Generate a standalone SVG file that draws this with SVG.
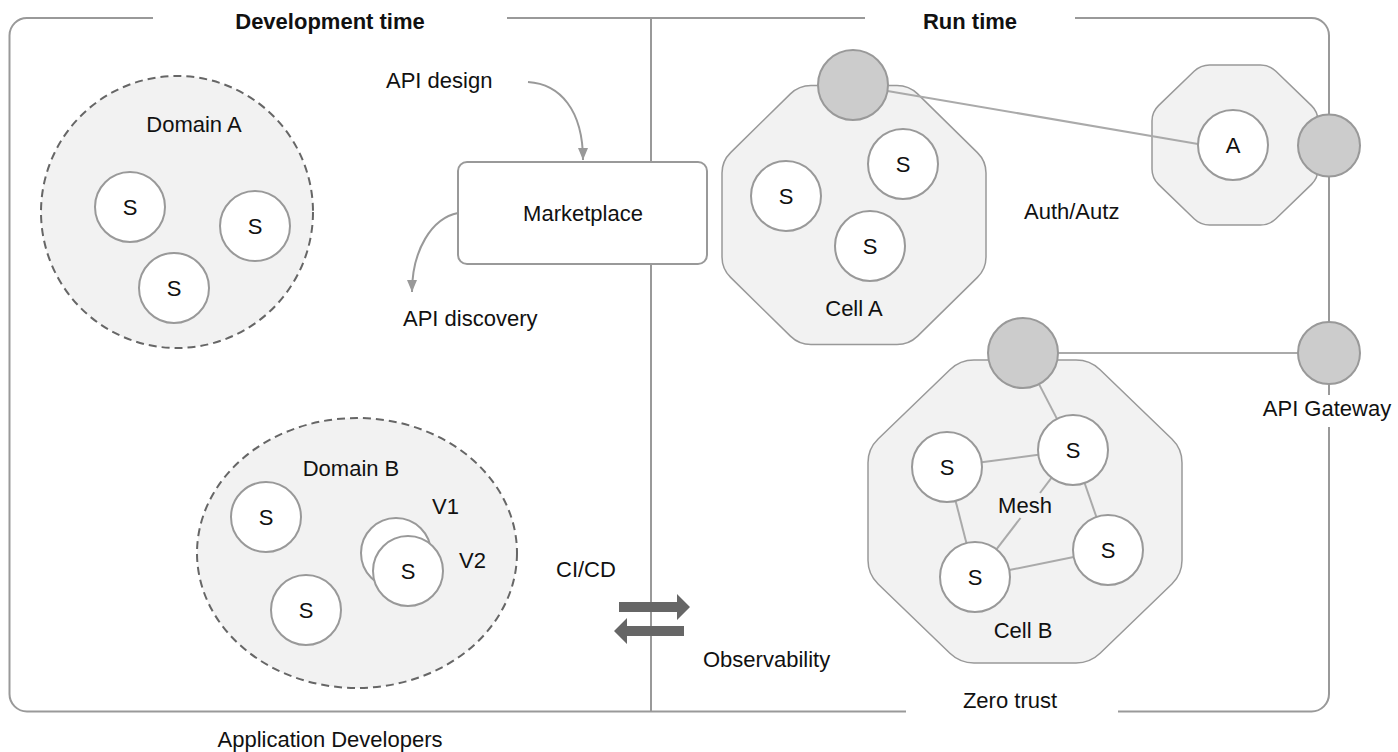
<svg xmlns="http://www.w3.org/2000/svg" width="1398" height="752" viewBox="0 0 1398 752">
  <style>
    .frame { fill: none; stroke: #999; stroke-width: 2; }
    .dom { fill: #f2f2f2; stroke: #666; stroke-width: 2; stroke-dasharray: 8 5; }
    .cell { fill: #f2f2f2; stroke: #999; stroke-width: 1.5; }
    .svc { fill: #fff; stroke: #999; stroke-width: 2; }
    .gw { fill: #ccc; stroke: #999; stroke-width: 2; }
    .box { fill: #fff; stroke: #999; stroke-width: 2; }
    .link { fill: none; stroke: #aaa; stroke-width: 2; }
    .flow { fill: none; stroke: #999; stroke-width: 2; }
    .pipe { fill: #666; }
    text { font-family: "Liberation Sans", Arial, sans-serif; font-size: 22px; fill: #111; }
    .title { font-weight: bold; }
    .mid { text-anchor: middle; }
  </style>
  <defs>
    <marker id="ah" viewBox="0 0 12 10" refX="12" refY="5" markerWidth="12" markerHeight="10" markerUnits="userSpaceOnUse" orient="auto">
      <path d="M0,0 L12,5 L0,10 Z" fill="#999"/>
    </marker>
  </defs>

  <!-- outer frame with gaps for headings and labels -->
  <g id="frame">
    <path class="frame" d="M153,18 L27,18 A17.5,17.5 0 0 0 9.5,35.5 L9.5,694 A17.5,17.5 0 0 0 27,711.5 L906,711.5"/>
    <path class="frame" d="M1118,711.5 L1311.5,711.5 A17.5,17.5 0 0 0 1329,694 L1329,427"/>
    <path class="frame" d="M1329,395 L1329,35.5 A17.5,17.5 0 0 0 1311.5,18 L1075,18"/>
    <path class="frame" d="M507,18 L865,18"/>
    <path class="frame" d="M651,18 L651,711.5"/>
    <text class="title mid" x="330" y="29">Development time</text>
    <text class="title mid" x="970" y="29">Run time</text>
    <text class="mid" x="1010" y="708">Zero trust</text>
    <text class="mid" x="330" y="747">Application Developers</text>
  </g>

  <!-- Domain A -->
  <g id="domain-a">
    <circle class="dom" cx="177" cy="212" r="136"/>
    <text class="mid" x="194" y="132">Domain A</text>
    <circle class="svc" cx="130" cy="207" r="35"/>
    <text class="mid" x="130" y="215">S</text>
    <circle class="svc" cx="255" cy="226" r="35"/>
    <text class="mid" x="255" y="234">S</text>
    <circle class="svc" cx="174" cy="288" r="35"/>
    <text class="mid" x="174" y="296">S</text>
  </g>

  <!-- Domain B -->
  <g id="domain-b">
    <ellipse class="dom" cx="357" cy="553" rx="160" ry="135"/>
    <text class="mid" x="351" y="476">Domain B</text>
    <circle class="svc" cx="266" cy="517" r="35"/>
    <text class="mid" x="266" y="525">S</text>
    <circle class="svc" cx="306" cy="610" r="35"/>
    <text class="mid" x="306" y="618">S</text>
    <circle class="svc" cx="396" cy="553" r="35"/>
    <circle class="svc" cx="408" cy="571" r="35"/>
    <text class="mid" x="408" y="579">S</text>
    <text x="432" y="514">V1</text>
    <text x="459" y="568">V2</text>
  </g>

  <!-- Marketplace -->
  <g id="marketplace">
    <rect class="box" x="458" y="162" width="249" height="102" rx="9"/>
    <text class="mid" x="583" y="221">Marketplace</text>
  </g>

  <g id="api-labels">
    <text x="386" y="88">API design</text>
    <text x="403" y="326">API discovery</text>
  </g>

  <!-- CI/CD and observability exchange -->
  <g id="pipeline">
    <text x="556" y="577">CI/CD</text>
    <path class="pipe" d="M619,602 L677,602 L677,594 L690,607 L677,620 L677,612 L619,612 Z"/>
    <path class="pipe" d="M684,626 L627,626 L627,618 L614,631 L627,644 L627,636 L684,636 Z"/>
    <text x="703" y="667">Observability</text>
  </g>

  <!-- Cell A -->
  <g id="cell-a">
    <path class="cell" d="M811,85.5 L897,85.5 Q909,85.5 917.6,93.9 L977.4,152.6 Q986,161 986,173 L986,257 Q986,269 977.4,277.4 L917.6,336.1 Q909,344.5 897,344.5 L811,344.5 Q799,344.5 790.4,336.1 L730.6,277.4 Q722,269 722,257 L722,173 Q722,161 730.6,152.6 L790.4,93.9 Q799,85.5 811,85.5 Z"/>
    <circle class="svc" cx="786" cy="196" r="35"/>
    <text class="mid" x="786" y="204">S</text>
    <circle class="svc" cx="903" cy="164" r="35"/>
    <text class="mid" x="903" y="172">S</text>
    <circle class="svc" cx="870" cy="246" r="35"/>
    <text class="mid" x="870" y="254">S</text>
    <text class="mid" x="854" y="316">Cell A</text>
  </g>

  <!-- Auth service -->
  <g id="auth">
    <path class="cell" d="M1209.6,65 L1260.4,65 Q1269.4,65 1275.9,71.3 L1311.5,105.6 Q1318,111.9 1318,120.9 L1318,169.1 Q1318,178.1 1311.5,184.4 L1275.9,218.7 Q1269.4,225 1260.4,225 L1209.6,225 Q1200.6,225 1194.1,218.7 L1158.5,184.4 Q1152,178.1 1152,169.1 L1152,120.9 Q1152,111.9 1158.5,105.6 L1194.1,71.3 Q1200.6,65 1209.6,65 Z"/>
    <text x="1024" y="219">Auth/Autz</text>
  </g>

  <!-- Cell B -->
  <g id="cell-b">
    <path class="cell" d="M974,360 L1076,360 Q1090,360 1100.1,369.7 L1171.9,439 Q1182,448.7 1182,462.7 L1182,560.3 Q1182,574.3 1171.9,584 L1100.1,653.3 Q1090,663 1076,663 L974,663 Q960,663 949.9,653.3 L878.1,584 Q868,574.3 868,560.3 L868,462.7 Q868,448.7 878.1,439 L949.9,369.7 Q960,360 974,360 Z"/>
    <text class="mid" x="1025" y="513">Mesh</text>
    <text class="mid" x="1023" y="638">Cell B</text>
  </g>

  <!-- connectors -->
  <g id="connectors">
    <path class="flow" d="M528,82 C560,84 583,110 583,160" marker-end="url(#ah)"/>
    <path class="flow" d="M458,213 C432,218 412,250 412,292" marker-end="url(#ah)"/>
    <line class="link" x1="887.5" y1="90.9" x2="1198" y2="144"/>
    <line class="link" x1="1058" y1="353" x2="1298" y2="353"/>
    <line class="link" x1="1039" y1="384.1" x2="1057" y2="418.9"/>
    <line class="link" x1="981.7" y1="462.3" x2="1038.3" y2="454.7"/>
    <line class="link" x1="955.6" y1="500.9" x2="966.4" y2="543.1"/>
    <line class="link" x1="1084.6" y1="483" x2="1096.4" y2="517"/>
    <line class="link" x1="1009.3" y1="570" x2="1073.7" y2="557"/>
    <line class="link" x1="1051.6" y1="477.7" x2="1040" y2="493"/>
    <line class="link" x1="1020.5" y1="518" x2="996.4" y2="549.3"/>
  </g>

  <!-- gateways and services drawn over connectors -->
  <g id="cell-a-gateway">
    <circle class="gw" cx="853" cy="85" r="35"/>
  </g>
  <g id="auth-service">
    <circle class="svc" cx="1233" cy="145" r="35"/>
    <text class="mid" x="1233" y="153">A</text>
  </g>
  <g id="edge-gateway-top">
    <circle class="gw" cx="1329" cy="145.5" r="31"/>
  </g>
  <g id="api-gateway">
    <circle class="gw" cx="1329" cy="353" r="31"/>
    <text class="mid" x="1327" y="416">API Gateway</text>
  </g>
  <g id="cell-b-gateway">
    <circle class="gw" cx="1023" cy="353" r="35"/>
  </g>
  <g id="cell-b-services">
    <circle class="svc" cx="947" cy="467" r="35"/>
    <text class="mid" x="947" y="475">S</text>
    <circle class="svc" cx="1073" cy="450" r="35"/>
    <text class="mid" x="1073" y="458">S</text>
    <circle class="svc" cx="975" cy="577" r="35"/>
    <text class="mid" x="975" y="585">S</text>
    <circle class="svc" cx="1108" cy="550" r="35"/>
    <text class="mid" x="1108" y="558">S</text>
  </g>
</svg>
